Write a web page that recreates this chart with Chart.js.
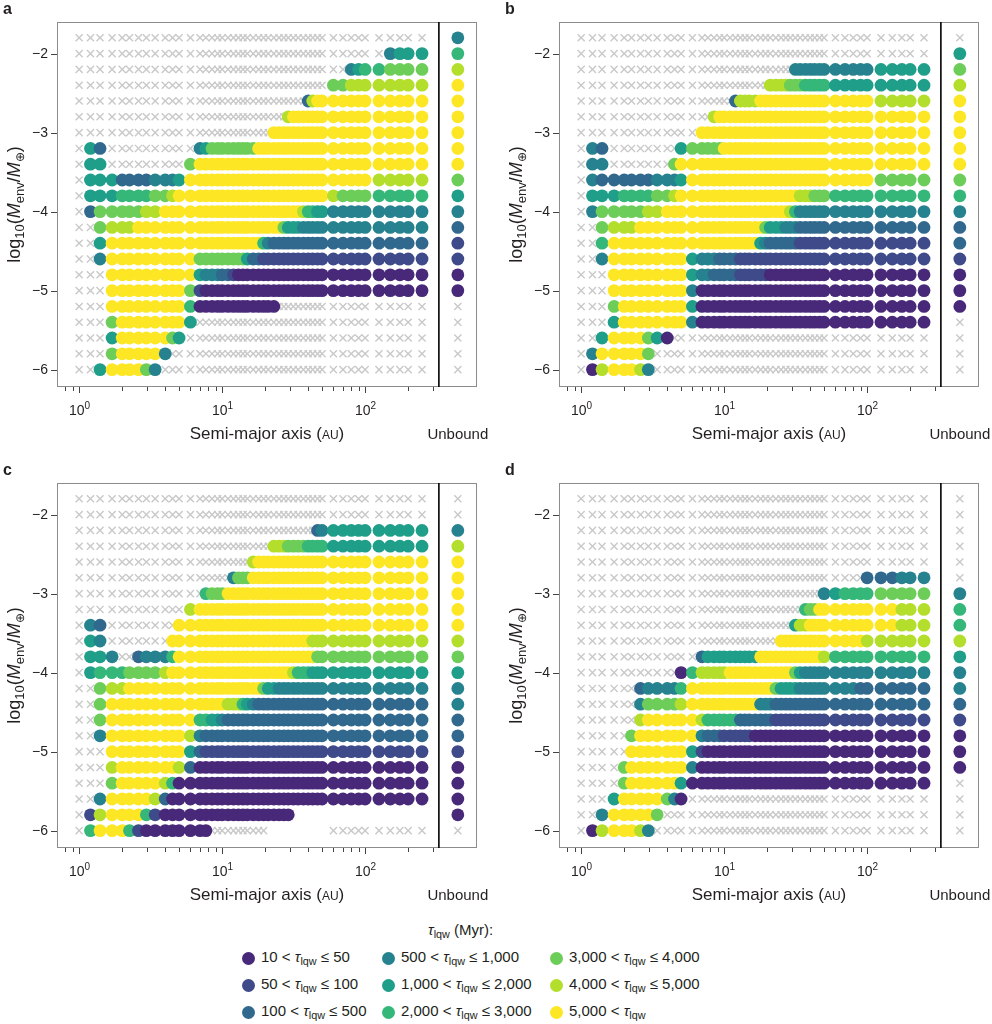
<!DOCTYPE html>
<html>
<head>
<meta charset="utf-8">
<script src="https://cdn.jsdelivr.net/npm/chart.js@4.4.1/dist/chart.umd.min.js"></script>
<style>
  body { margin: 0; background: #fff; width: 992px; height: 1024px; position: relative; overflow: hidden;
         font-family: "Liberation Sans", Arial, Helvetica, sans-serif; color: #231f20; }
  canvas { position: absolute; }
  .ltxt { position: absolute; font-size: 15px; line-height: 18px; white-space: nowrap; }
  .ltxt sub { font-size: 0.72em; vertical-align: -0.32em; line-height: 0; }
  .ldot { position: absolute; width: 13px; height: 13px; border-radius: 50%; }
</style>
</head>
<body>
<canvas id="panelA" width="500" height="458" style="left:0;top:0"></canvas>
<canvas id="panelB" width="490" height="458" style="left:502px;top:0"></canvas>
<canvas id="panelC" width="500" height="458" style="left:0;top:461px"></canvas>
<canvas id="panelD" width="490" height="458" style="left:502px;top:461px"></canvas>
<div id="legend"></div>
<script>
// grid of simulated semi-major axes (AU), one entry per column
const semiMajorAU = [1, 1.2, 1.4, 1.7, 2, 2.25, 2.6, 2.95, 3.4, 4,
    4.5, 5, 6, 7, 7.7, 8.5, 9.3, 10, 11, 12,
    13, 14, 15, 16.5, 18, 19.5, 21, 23, 25, 27,
    29, 31.5, 34, 37, 40, 43, 46.5, 50, 60, 70,
    80, 90, 100, 125, 150, 175, 200, 250];
const unboundAU = 445;
const dividerAU = 328;

// log10(Menv/Mearth), one entry per row, top to bottom
const envMassLog = [-1.8, -2.0, -2.2, -2.4, -2.6, -2.8, -3.0, -3.2, -3.4, -3.6, -3.8,
    -4.0, -4.2, -4.4, -4.6, -4.8, -5.0, -5.2, -5.4, -5.6, -5.8, -6.0];

const yTicks = [-6, -5, -4, -3, -2];
const xMajorTicks = [1, 10, 100];
const xMinorTicks = [0.8, 0.9, 2, 3, 4, 5, 6, 7, 8, 9, 20, 30, 40, 50, 60, 70, 80, 90, 200, 300];

// tau_lqw classes (Myr) and their colours
const tauLow = ['10', '50', '100', '500', '1,000', '2,000', '3,000', '4,000', '5,000'];
const tauHigh = ['50', '100', '500', '1,000', '2,000', '3,000', '4,000', '5,000', null];
const tauColors = ['#482878', '#3E4A89', '#31688E', '#26828E', '#1F9E89', '#35B779', '#6DCD59', '#B4DE2C', '#FDE725'];

// each row: 48 columns then the unbound cell; x = cross, . = nothing, 1-9 = tau class
const panelARows = [
    "xxxxxxxxxx xxxxxxxxxx xxxxxxxxxx xxxxxxxxxx xxxxxxxx | 4",
    "xxxxxxxxxx xxxxxxxxxx xxxxxxxxxx xxxxxxxxxx xxxx4555 | 6",
    "xxxxxxxxxx xxxxxxxxxx xxxxxxxxxx xxxxxxxxxx 45667777 | 8",
    "xxxxxxxxxx xxxxxxxxxx xxxxxxxxxx xxxxxxxx77 88888888 | 9",
    "xxxxxxxxxx xxxxxxxxxx xxxxxxxxxx xxxx389999 99999999 | 9",
    "xxxxxxxxxx xxxxxxxxxx xxxxxxxxxx 8999999999 99999999 | 9",
    "xxxxxxxxxx xxxxxxxxxx xxxxxxx999 9999999999 99999999 | 9",
    "x53xxxxxxx xxx4577777 7777999999 9999999999 99999999 | 9",
    "x55xxxxxxx xx79999999 9999999999 9999999999 99999999 | 9",
    "x555333344 4599999999 9999999999 9999999999 99988888 | 7",
    "x555666677 8999999999 9999999999 9999999987 77766666 | 5",
    "x377777889 9999999999 9999999999 9998665544 44444444 | 4",
    "xx78889999 9999999999 9999999997 5554444444 44444444 | 3",
    "xx59999999 9999999999 9999964333 3333333333 33333333 | 2",
    "xx49999999 9997777777 7753322222 2222222222 22222222 | 2",
    "xxx9999999 9995444332 1111111111 1111111111 11111111 | 1",
    "xxx9999999 9972111111 1111111111 1111111111 11111111 | 1",
    "xxx9999999 9961111111 11111111xx xxxxxxxxxx xxxxxxxx | x",
    "xxx7999999 995xxxxxxx xxxxxxxxxx xxxxxxxxxx xxxxxxxx | x",
    "xxx5999999 75xxxxxxxx xxxxxxxxxx xxxxxxxxxx xxxxxxxx | x",
    "xxx7999994 xxxxxxxxxx xxxxxxxxxx xxxxxxxxxx xxxxxxxx | x",
    "xx5999974x xxxxxxxxxx xxxxxxxxxx xxxxxxxxxx xxxxxxxx | x"
];
const panelBRows = [
    "xxxxxxxxxx xxxxxxxxxx xxxxxxxxxx xxxxxxxxxx xxxxxxxx | x",
    "xxxxxxxxxx xxxxxxxxxx xxxxxxxxxx xxxxxxxxxx xxxxxxxx | 5",
    "xxxxxxxxxx xxxxxxxxxx xxxxxxxxxx x444444444 44455555 | 7",
    "xxxxxxxxxx xxxxxxxxxx xxxxxx8888 7776666655 55555555 | 8",
    "xxxxxxxxxx xxxxxxxxx3 8888999999 9999999999 99988888 | 9",
    "xxxxxxxxxx xxxxx89999 9999999999 9999999999 99999999 | 9",
    "xxxxxxxxxx xxx9999999 9999999999 9999999999 99999999 | 9",
    "x43xxxxxxx x577777999 9999999999 9999999999 99999999 | 9",
    "x44xxxxxxx 7999999999 9999999999 9999999999 99999999 | 9",
    "x433333344 4599999999 9999999999 9999999999 99977777 | 7",
    "x555666677 8999999999 9999999999 9988877766 66666666 | 6",
    "x477777889 9999999999 9999999999 8644444444 44444444 | 4",
    "xx78889999 9999999999 9999975554 4433333333 33333333 | 3",
    "xx69999999 9999999999 9999543333 3322222222 22222222 | 3",
    "xx49999999 9954443333 2222222222 2222222222 22222222 | 2",
    "xxx9999999 9954433333 2222221111 1111111111 11111111 | 1",
    "xxx9999999 9941111111 1111111111 1111111111 11111111 | 1",
    "xxx7999999 9951111111 1111111111 1111111111 11111111 | 1",
    "xxx5999999 9941111111 1111111111 1111111111 11111111 | x",
    "xx59999751 xxxxxxxxxx xxxxxxxxxx xxxxxxxxxx xxxxxxxx | x",
    "x4999997xx xxxxxxxxxx xxxxxxxxxx xxxxxxxxxx xxxxxxxx | x",
    "x1899984xx xxxxxxxxxx xxxxxxxxxx xxxxxxxxxx xxxxxxxx | x"
];
const panelCRows = [
    "xxxxxxxxxx xxxxxxxxxx xxxxxxxxxx xxxxxxxxxx xxxxxxxx | x",
    "xxxxxxxxxx xxxxxxxxxx xxxxxxxxxx xxxxxxxxxx xxxxxxxx | x",
    "xxxxxxxxxx xxxxxxxxxx xxxxxxxxxx xxxxxx3455 55555555 | 4",
    "xxxxxxxxxx xxxxxxxxxx xxxxxxx888 7777666655 55555555 | 8",
    "xxxxxxxxxx xxxxxxxxxx xxx8999999 9999999999 99999999 | 9",
    "xxxxxxxxxx xxxxxxxxx4 7779999999 9999999999 99999999 | 9",
    "xxxxxxxxxx xxxx677799 9999999999 9999999999 99999999 | 9",
    "xxxxxxxxxx xx89999999 9999999999 9999999999 99999999 | 9",
    "x43xxxxxxx x999999999 9999999999 9999999999 99999999 | 9",
    "x54xxxxxxx 9999999999 9999999999 9999988888 88888888 | 8",
    "x554xx3444 6999999999 9999999999 9999997777 77777777 | 7",
    "x566677778 9999999999 9999999999 9866655555 55555555 | 5",
    "xx78899999 9999999999 9999975544 4444444444 44444444 | 4",
    "xx79999999 9999999988 8654333333 3333333333 33333333 | 4",
    "xx79999999 9996655433 3333333333 3333333333 33333333 | 3",
    "xx49999999 9984333333 3333333333 3333333333 33333333 | 3",
    "xxx9999999 9953222222 2222222222 2222222222 22222222 | 2",
    "xxx8999999 9831111111 1111111111 1111111111 11111111 | 1",
    "xxx7999998 6111111111 1111111111 1111111111 11111111 | 1",
    "xx49999983 1111111111 1111111111 1111111111 11111111 | 1",
    "x289999621 1111111111 1111111111 1......... ........ | 1",
    "x699962111 11111xxxxx xxxxxx.... ........xx xxxxxxxx | x"
];
const panelDRows = [
    "xxxxxxxxxx xxxxxxxxxx xxxxxxxxxx xxxxxxxxxx xxxxxxxx | x",
    "xxxxxxxxxx xxxxxxxxxx xxxxxxxxxx xxxxxxxxxx xxxxxxxx | x",
    "xxxxxxxxxx xxxxxxxxxx xxxxxxxxxx xxxxxxxxxx xxxxxxxx | x",
    "xxxxxxxxxx xxxxxxxxxx xxxxxxxxxx xxxxxxxxxx xxxxxxxx | x",
    "xxxxxxxxxx xxxxxxxxxx xxxxxxxxxx xxxxxxxxxx xxxxxxxx | x",
    "xxxxxxxxxx xxxxxxxxxx xxxxxxxxxx xxxxxxxxxx xx333444 | x",
    "xxxxxxxxxx xxxxxxxxxx xxxxxxxxxx xxxxxxx456 66677777 | 4",
    "xxxxxxxxxx xxxxxxxxxx xxxxxxxxxx xxx6779999 99999888 | 6",
    "xxxxxxxxxx xxxxxxxxxx xxxxxxxxxx x588999999 99999888 | 6",
    "xxxxxxxxxx xxxxxxxxxx xxxxxxxx99 9999999999 99888888 | 8",
    "xxxxxxxxxx xxx3555555 5555999999 9999999866 66666666 | 5",
    "xxxxxxxxxx x168888899 9999999999 9754444444 44444444 | 4",
    "xxxxxx3444 4699999999 9999999755 5544444444 43333333 | 4",
    "xxxxxx4777 7899999999 9999444333 3333333333 33333333 | 3",
    "xxxxxx8999 9998666666 3333333222 2222222222 22222222 | 2",
    "xxxxx79999 9994333222 2221111111 1111111111 11111111 | 1",
    "xxxxx99999 9952111111 1111111111 1111111111 11111111 | 1",
    "xxxx799999 9941111111 1111111111 1111111111 11111111 | 1",
    "xxxx799999 9511111111 1111111111 1111111111 11111111 | x",
    "xxx5999997 41xxxxxxxx xxxxxxxxxx xxxxxxxxxx xxxxxxxx | x",
    "xx4999997x xxxxxxxxxx xxxxxxxxxx xxxxxxxxxx xxxxxxxx | x",
    "x1899984xx xxxxxxxxxx xxxxxxxxxx xxxxxxxxxx xxxxxxxx | x"
];

const FONT = "'Liberation Sans', Arial, Helvetica, sans-serif";

function buildPoints(rows) {
    const crosses = [], dots = [], colors = [];
    rows.forEach((row, r) => {
        const [main, unb] = row.replace(/ /g, '').split('|');
        if (main.length !== semiMajorAU.length) console.warn('row', r, main.length);
        const cells = main.split('').map((c, i) => [semiMajorAU[i], c]);
        cells.push([unboundAU, unb]);
        cells.forEach(([a, c]) => {
            if (c === 'x') crosses.push({ x: a, y: envMassLog[r] });
            else if (c !== '.') {
                dots.push({ x: a, y: envMassLog[r] });
                colors.push(tauColors[Number(c) - 1]);
            }
        });
    });
    return { crosses, dots, colors };
}

function drawRich(ctx, parts, x, y) {
    ctx.textAlign = 'left';
    ctx.textBaseline = 'alphabetic';
    let w = 0;
    parts.forEach(p => { ctx.font = p.f; w += ctx.measureText(p.t).width; });
    let cx = x - w / 2;
    parts.forEach(p => {
        ctx.font = p.f;
        ctx.fillText(p.t, cx, y + (p.dy || 0));
        cx += ctx.measureText(p.t).width;
    });
}

function seg(ctx, x1, y1, x2, y2) {
    ctx.beginPath(); ctx.moveTo(x1, y1); ctx.lineTo(x2, y2); ctx.stroke();
}

const panelDecor = {
    id: 'panelDecor',
    afterDraw(chart, args, opts) {
        const { ctx, chartArea: ca } = chart;
        const xs = chart.scales.x, ys = chart.scales.y;
        ctx.save();
        ctx.strokeStyle = '#8c8c8c';
        ctx.lineWidth = 1;
        ctx.strokeRect(Math.round(ca.left) + 0.5, Math.round(ca.top) + 0.5,
            Math.round(ca.width) - 1, Math.round(ca.height) - 1);

        const xd = xs.getPixelForValue(dividerAU);
        ctx.strokeStyle = '#000';
        ctx.lineWidth = 1.6;
        seg(ctx, xd, ca.top, xd, ca.bottom);

        ctx.strokeStyle = '#444';
        ctx.lineWidth = 1;
        ctx.fillStyle = '#231f20';

        // y axis
        ctx.font = '14px ' + FONT;
        ctx.textAlign = 'right';
        ctx.textBaseline = 'middle';
        yTicks.forEach(v => {
            const py = Math.round(ys.getPixelForValue(v)) + 0.5;
            seg(ctx, ca.left - 6, py, ca.left, py);
            ctx.fillText('\u2212' + Math.abs(v), ca.left - 9, py);
        });

        // x axis
        xMinorTicks.forEach(v => {
            const px = Math.round(xs.getPixelForValue(v)) + 0.5;
            seg(ctx, px, ca.bottom, px, ca.bottom + 4);
        });
        xMajorTicks.forEach(v => {
            const px = Math.round(xs.getPixelForValue(v)) + 0.5;
            seg(ctx, px, ca.bottom, px, ca.bottom + 6);
            drawRich(ctx, [
                { t: '10', f: '14px ' + FONT },
                { t: String(Math.round(Math.log10(v))), f: '10px ' + FONT, dy: -6 }
            ], px, ca.bottom + 28);
        });

        drawRich(ctx, [
            { t: 'Semi-major axis (', f: '17px ' + FONT },
            { t: 'AU', f: '12px ' + FONT },
            { t: ')', f: '17px ' + FONT }
        ], (ca.left + ca.right) / 2, ca.bottom + 52);
        drawRich(ctx, [{ t: 'Unbound', f: '15px ' + FONT }],
            xs.getPixelForValue(unboundAU), ca.bottom + 52);

        // y title
        ctx.save();
        ctx.translate(20, (ca.top + ca.bottom) / 2);
        ctx.rotate(-Math.PI / 2);
        drawRich(ctx, [
            { t: 'log', f: '18px ' + FONT },
            { t: '10', f: '13px ' + FONT, dy: 4 },
            { t: '(', f: '18px ' + FONT },
            { t: 'M', f: 'italic 18px ' + FONT },
            { t: 'env', f: '13px ' + FONT, dy: 4 },
            { t: '/', f: '18px ' + FONT },
            { t: 'M', f: 'italic 18px ' + FONT },
            { t: '\u2295', f: '12px ' + FONT, dy: 4 },
            { t: ')', f: '18px ' + FONT }
        ], 0, 0);
        ctx.restore();

        // panel letter
        ctx.font = 'bold 16px ' + FONT;
        ctx.textAlign = 'left';
        ctx.textBaseline = 'alphabetic';
        ctx.fillText(opts.letter, 3, 14);
        ctx.restore();
    }
};

function makePanel(id, rows, letter, rightPad) {
    const pts = buildPoints(rows);
    new Chart(document.getElementById(id), {
        type: 'scatter',
        data: {
            datasets: [
                {
                    data: pts.dots,
                    pointStyle: 'circle',
                    pointRadius: 6.4,
                    pointBackgroundColor: pts.colors,
                    pointBorderWidth: 0,
                    order: 1
                },
                {
                    data: pts.crosses,
                    pointStyle: 'crossRot',
                    pointRadius: 5,
                    pointBorderColor: '#c9c9c9',
                    pointBorderWidth: 1.4,
                    order: 2
                }
            ]
        },
        options: {
            responsive: false,
            animation: false,
            events: [],
            layout: { padding: { left: 57, right: rightPad, top: 22, bottom: 71 } },
            scales: {
                x: { type: 'logarithmic', min: 0.74, max: 606, display: false },
                y: { type: 'linear', min: -6.22, max: -1.6, display: false }
            },
            plugins: {
                legend: { display: false },
                tooltip: { enabled: false },
                panelDecor: { letter: letter }
            }
        },
        plugins: [panelDecor]
    });
}

makePanel('panelA', panelARows, 'a', 23);
makePanel('panelB', panelBRows, 'b', 13);
makePanel('panelC', panelCRows, 'c', 23);
makePanel('panelD', panelDRows, 'd', 13);

// legend
const legend = document.getElementById('legend');
const title = document.createElement('div');
title.className = 'ltxt';
title.innerHTML = '<i>\u03c4</i><sub>lqw</sub> (Myr):';
title.style.left = '428px';
title.style.top = '921px';
legend.appendChild(title);

const legendColX = [248, 388, 556];
const legendRowY = [958, 985, 1012];
tauColors.forEach((col, i) => {
    const cx = legendColX[Math.floor(i / 3)], cy = legendRowY[i % 3];
    const dot = document.createElement('div');
    dot.className = 'ldot';
    dot.style.background = col;
    dot.style.left = (cx - 6.5) + 'px';
    dot.style.top = (cy - 6.5) + 'px';
    legend.appendChild(dot);
    const t = document.createElement('div');
    t.className = 'ltxt';
    const tau = '<i>\u03c4</i><sub>lqw</sub>';
    t.innerHTML = tauHigh[i] === null
        ? tauLow[i] + ' &lt; ' + tau
        : tauLow[i] + ' &lt; ' + tau + ' \u2264 ' + tauHigh[i];
    t.style.left = (cx + 13) + 'px';
    t.style.top = (cy - 10) + 'px';
    legend.appendChild(t);
});
</script>
</body>
</html>
